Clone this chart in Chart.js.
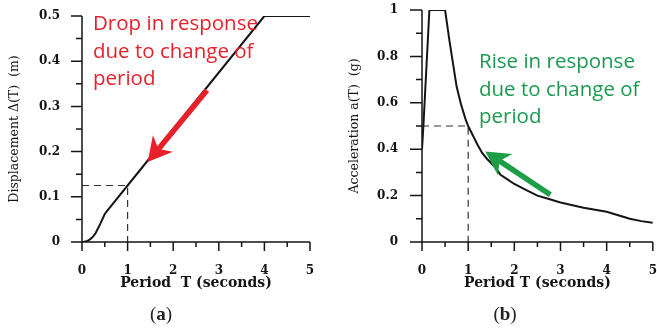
<!DOCTYPE html>
<html>
<head>
<meta charset="utf-8">
<script src="https://cdn.jsdelivr.net/npm/chart.js@4.4.1/dist/chart.umd.min.js"></script>
<style>
  body{margin:0;background:#fff;}
  #wrap{position:relative;width:657px;height:328px;overflow:hidden;}
  .box{position:absolute;top:0;height:328px;}
  .note{position:absolute;font-family:"Open Sans",sans-serif;font-size:20.5px;line-height:27.5px;white-space:nowrap;}
  .cap{position:absolute;top:303px;font-family:"Liberation Serif",serif;font-size:19px;color:#222;transform:translateX(-50%);}
</style>
</head>
<body>
<div id="wrap">
  <div class="box" style="left:0;width:330px"><canvas id="chartA" width="330" height="328"></canvas></div>
  <div class="box" style="left:330px;width:327px"><canvas id="chartB" width="327" height="328"></canvas></div>
  <div class="note" style="left:93px;top:9px;color:#e5232b">Drop in response<br>due to change of<br>period</div>
  <div class="note" style="left:479px;top:47px;color:#1c9a4f">Rise in response<br>due to change of<br>period</div>
  <div class="cap" style="left:161px">(<b>a</b>)</div>
  <div class="cap" style="left:505px">(<b>b</b>)</div>
</div>
<script>
// period values (seconds) and spectra
const periodA = [0, 0.05, 0.1, 0.15, 0.2, 0.25, 0.3, 0.35, 0.4, 0.45, 0.5, 0.55, 0.6, 1.0, 4.0, 5.0];
const displacement = [0, 0.0005, 0.002, 0.004, 0.008, 0.013, 0.02, 0.03, 0.04, 0.051, 0.062, 0.069, 0.075, 0.125, 0.5, 0.5];
const periodB = [0, 0.02, 0.03, 0.16, 0.5, 0.6, 0.75, 0.85, 0.95, 1.0, 1.1, 1.2, 1.3, 1.4, 1.55, 1.7, 1.85, 2.0, 2.25, 2.5, 2.75, 3.0, 3.5, 4.0, 4.25, 4.5, 4.75, 5.0];
const acceleration = [0.4, 0.4, 0.5, 1.0, 1.0, 0.86, 0.67, 0.59, 0.525, 0.5, 0.46, 0.42, 0.385, 0.36, 0.33, 0.29, 0.27, 0.25, 0.225, 0.2, 0.185, 0.17, 0.148, 0.13, 0.115, 0.1, 0.09, 0.083];

// dashed guide at T = 1 s
const guideA = [[0, 0.125], [1, 0.125], [1, 0]];
const guideB = [[0, 0.5], [1, 0.5], [1, 0]];

// arrows: [tail, tip] in data units
const arrowA = [[2.74, 0.336], [1.44, 0.177]];
const arrowB = [[2.78, 0.204], [1.37, 0.39]];

// ticks
const xMajor = [0, 1, 2, 3, 4, 5];
const xMinor = [0.5, 1.5, 2.5, 3.5, 4.5];
const yMajorA = [0, 0.1, 0.2, 0.3, 0.4, 0.5];
const yMinorA = [0.05, 0.15, 0.25, 0.35, 0.45];
const yMajorB = [0, 0.2, 0.4, 0.6, 0.8, 1];
const yMinorB = [0.1, 0.3, 0.5, 0.7, 0.9];

const ink = '#151515';
const toPts = (xs, ys) => xs.map((x, i) => ({x: x, y: ys[i]}));
const pairPts = arr => arr.map(p => ({x: p[0], y: p[1]}));

// axis lines + tick marks outside the axes, long at majors and short at minors
function drawAxes(chart, yMajor, yMinor, majorLen) {
  const {ctx, scales: {x, y}} = chart;
  const bot = y.getPixelForValue(0), lft = x.getPixelForValue(0);
  const top = y.getPixelForValue(y.max), rgt = x.getPixelForValue(x.max);
  ctx.save();
  ctx.strokeStyle = ink;
  ctx.lineWidth = 1.5;
  ctx.beginPath();
  ctx.moveTo(lft, top); ctx.lineTo(lft, bot + 9);
  ctx.moveTo(lft - majorLen, bot); ctx.lineTo(rgt, bot);
  xMajor.forEach(v => { const p = x.getPixelForValue(v); ctx.moveTo(p, bot); ctx.lineTo(p, bot + 9); });
  xMinor.forEach(v => { const p = x.getPixelForValue(v); ctx.moveTo(p, bot); ctx.lineTo(p, bot + 5); });
  yMajor.forEach(v => { const p = y.getPixelForValue(v); ctx.moveTo(lft, p); ctx.lineTo(lft - majorLen, p); });
  yMinor.forEach(v => { const p = y.getPixelForValue(v); ctx.moveTo(lft, p); ctx.lineTo(lft - 6, p); });
  ctx.stroke();
  ctx.restore();
}

function drawArrow(chart, arrow, color) {
  const {ctx, scales: {x, y}} = chart;
  const x0 = x.getPixelForValue(arrow[0][0]), y0 = y.getPixelForValue(arrow[0][1]);
  const x1 = x.getPixelForValue(arrow[1][0]), y1 = y.getPixelForValue(arrow[1][1]);
  const ang = Math.atan2(y1 - y0, x1 - x0);
  const hl = 24, hw = 13, notch = 17;
  const cos = Math.cos(ang), sin = Math.sin(ang);
  const bx = x1 - hl * cos, by = y1 - hl * sin;
  const nx = x1 - notch * cos, ny = y1 - notch * sin;
  ctx.save();
  ctx.strokeStyle = color;
  ctx.fillStyle = color;
  ctx.lineWidth = 5.5;
  ctx.beginPath();
  ctx.moveTo(x0, y0);
  ctx.lineTo(nx, ny);
  ctx.stroke();
  ctx.beginPath();
  ctx.moveTo(x1, y1);
  ctx.lineTo(bx - hw * sin, by + hw * cos);
  ctx.lineTo(nx, ny);
  ctx.lineTo(bx + hw * sin, by - hw * cos);
  ctx.closePath();
  ctx.fill();
  ctx.restore();
}

function makeChart(id, pts, guide, opt) {
  const extras = {
    id: 'extras_' + id,
    afterDraw(chart) {
      drawAxes(chart, opt.yMajor, opt.yMinor, opt.yTickLen);
      drawArrow(chart, opt.arrow, opt.arrowColor);
    }
  };
  return new Chart(document.getElementById(id), {
    type: 'line',
    data: {
      datasets: [
        {data: pts, borderColor: ink, borderWidth: 2, pointRadius: 0, tension: 0},
        {data: pairPts(guide), borderColor: '#333', borderWidth: 1.2, borderDash: [7, 5], pointRadius: 0, tension: 0}
      ]
    },
    options: {
      responsive: false,
      animation: false,
      events: [],
      layout: {padding: {left: 0, top: opt.padTop, right: opt.padRight, bottom: 36}},
      plugins: {legend: {display: false}, tooltip: {enabled: false}},
      scales: {
        x: {
          type: 'linear', min: 0, max: 5,
          afterFit: s => { s.height = 50; },
          // grid hidden; tickLength only pushes the labels away from the axis
          grid: {display: false, tickLength: 22},
          border: {display: false},
          ticks: {stepSize: 1, padding: 0, maxRotation: 0, autoSkip: false, color: ink,
                  font: {family: 'DejaVu Serif', weight: 'bold', size: 12}},
          title: {display: true, text: opt.xTitle, color: ink, padding: 0,
                  font: {family: 'DejaVu Serif', weight: 'bold', size: 14}}
        },
        y: {
          min: 0, max: opt.yMax,
          afterFit: s => { s.width = opt.yWidth; },
          grid: {display: false, tickLength: opt.yGap},
          border: {display: false},
          ticks: {stepSize: opt.yStep, padding: 0, color: ink,
                  callback: v => String(+v.toFixed(2)),
                  font: {family: 'DejaVu Serif', weight: 'bold', size: 12}},
          title: {display: true, text: opt.yTitle, color: ink, padding: {top: opt.yTitlePad},
                  font: {family: 'DejaVu Serif', size: 12.5}}
        }
      }
    },
    plugins: [extras]
  });
}

makeChart('chartA', toPts(periodA, displacement), guideA, {
  padTop: 16, padRight: 20, yMax: 0.5, yStep: 0.1, yWidth: 82, yGap: 22, yTitlePad: 7.5, yTickLen: 11,
  yMajor: yMajorA, yMinor: yMinorA, arrow: arrowA, arrowColor: '#e8202a',
  xTitle: 'Period  T (seconds)', yTitle: 'Displacement Δ(T)  (m)'
});

makeChart('chartB', toPts(periodB, acceleration), guideB, {
  padTop: 10, padRight: 4, yMax: 1, yStep: 0.2, yWidth: 92, yGap: 24, yTitlePad: 17.5, yTickLen: 12,
  yMajor: yMajorB, yMinor: yMinorB, arrow: arrowB, arrowColor: '#1f9e48',
  xTitle: 'Period T (seconds)', yTitle: 'Acceleration a(T)  (g)'
});
</script>
</body>
</html>
